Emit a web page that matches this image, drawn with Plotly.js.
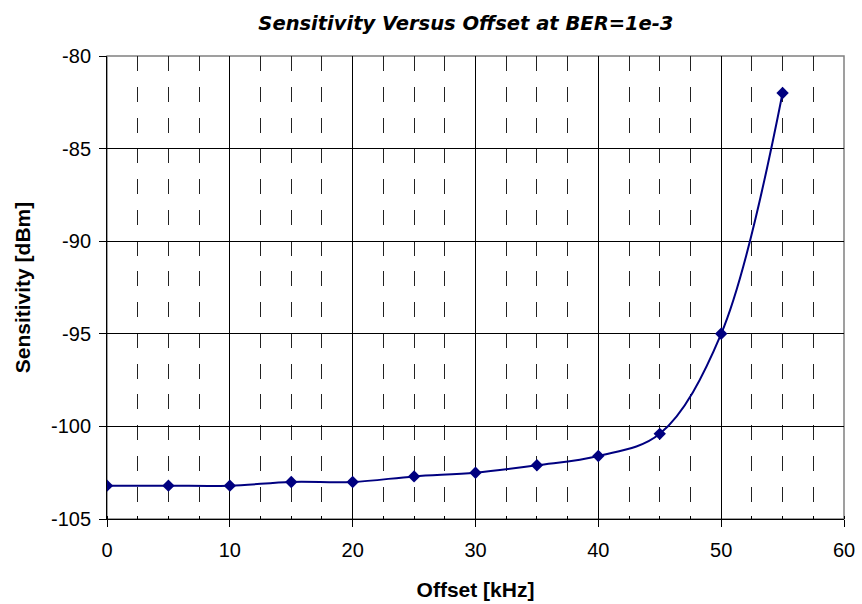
<!DOCTYPE html>
<html>
<head>
<meta charset="utf-8">
<script src="https://cdn.plot.ly/plotly-3.0.1.min.js"></script>
<style>
html, body { margin: 0; padding: 0; background: #fff; }
#chart { width: 862px; height: 604px; }
</style>
</head>
<body>
<div id="chart"></div>
<script>
const offsetKHz = [0, 5, 10, 15, 20, 25, 30, 35, 40, 45, 50, 55];
const sensitivityDBm = [-103.2, -103.2, -103.2, -103.0, -103.0, -102.7, -102.5, -102.1, -101.6, -100.4, -95.0, -82.0];
const xTickVals = [0, 10, 20, 30, 40, 50, 60];
const xTickText = ['0', '10', '20', '30', '40', '50', '60'];
const yTickVals = [-105, -100, -95, -90, -85, -80];
const yTickText = ['-105', '-100', '-95', '-90', '-85', '-80'];
const chartTitle = 'Sensitivity Versus Offset at BER=1e-3';
const xTitle = 'Offset [kHz]';
const yTitle = 'Sensitivity [dBm]';

const trace = {
  x: offsetKHz,
  y: sensitivityDBm,
  type: 'scatter',
  mode: 'lines+markers',
  line: { color: '#000080', width: 2, shape: 'spline', smoothing: 1 },
  marker: { symbol: 'diamond', size: 9.5, color: '#000080' },
  hoverinfo: 'x+y'
};

const layout = {
  width: 862,
  height: 604,
  margin: { l: 107, r: 18, t: 56, b: 85 },
  paper_bgcolor: '#ffffff',
  plot_bgcolor: '#ffffff',
  showlegend: false,
  title: {
    text: chartTitle,
    font: { family: 'DejaVu Sans', size: 19.5, color: '#000', weight: 'bold', style: 'italic' },
    x: 0.487, xanchor: 'center', xref: 'paper',
    y: 0.962, yanchor: 'middle'
  },
  xaxis: {
    range: [0, 60],
    tickmode: 'array',
    tickvals: xTickVals,
    ticktext: xTickText,
    showgrid: true,
    gridcolor: '#000000',
    gridwidth: 1,
    zeroline: false,
    showline: true,
    linecolor: '#000000',
    linewidth: 1,
    ticks: 'outside',
    ticklen: 7,
    tickcolor: '#000000',
    tickfont: { family: 'Liberation Sans', size: 20, color: '#000' },
    ticklabelstandoff: 6,
    minor: {
      dtick: 2.5,
      tick0: 0,
      showgrid: true,
      gridcolor: '#222222',
      gridwidth: 1,
      griddash: '15px,15.75px',
      ticks: 'inside',
      ticklen: 3,
      tickcolor: '#000000'
    },
    title: {
      text: xTitle,
      font: { family: 'Liberation Sans', size: 21, color: '#000', weight: 'bold' },
      standoff: 22
    }
  },
  yaxis: {
    range: [-105, -80],
    tickmode: 'array',
    tickvals: yTickVals,
    ticktext: yTickText,
    showgrid: true,
    gridcolor: '#000000',
    gridwidth: 1,
    zeroline: false,
    showline: true,
    linecolor: '#000000',
    linewidth: 1,
    ticks: 'outside',
    ticklen: 7,
    tickcolor: '#000000',
    tickfont: { family: 'Liberation Sans', size: 20, color: '#000' },
    ticklabelstandoff: 4,
    title: {
      text: yTitle,
      font: { family: 'Liberation Sans', size: 21, color: '#000', weight: 'bold' },
      standoff: 14
    }
  },
  shapes: [
    {
      type: 'rect', xref: 'paper', yref: 'paper', x0: 0, x1: 1, y0: 0, y1: 1,
      line: { color: '#808080', width: 1.5 }, layer: 'below'
    }
  ]
};

Plotly.newPlot('chart', [trace], layout, { displayModeBar: false, staticPlot: true });
</script>
</body>
</html>
